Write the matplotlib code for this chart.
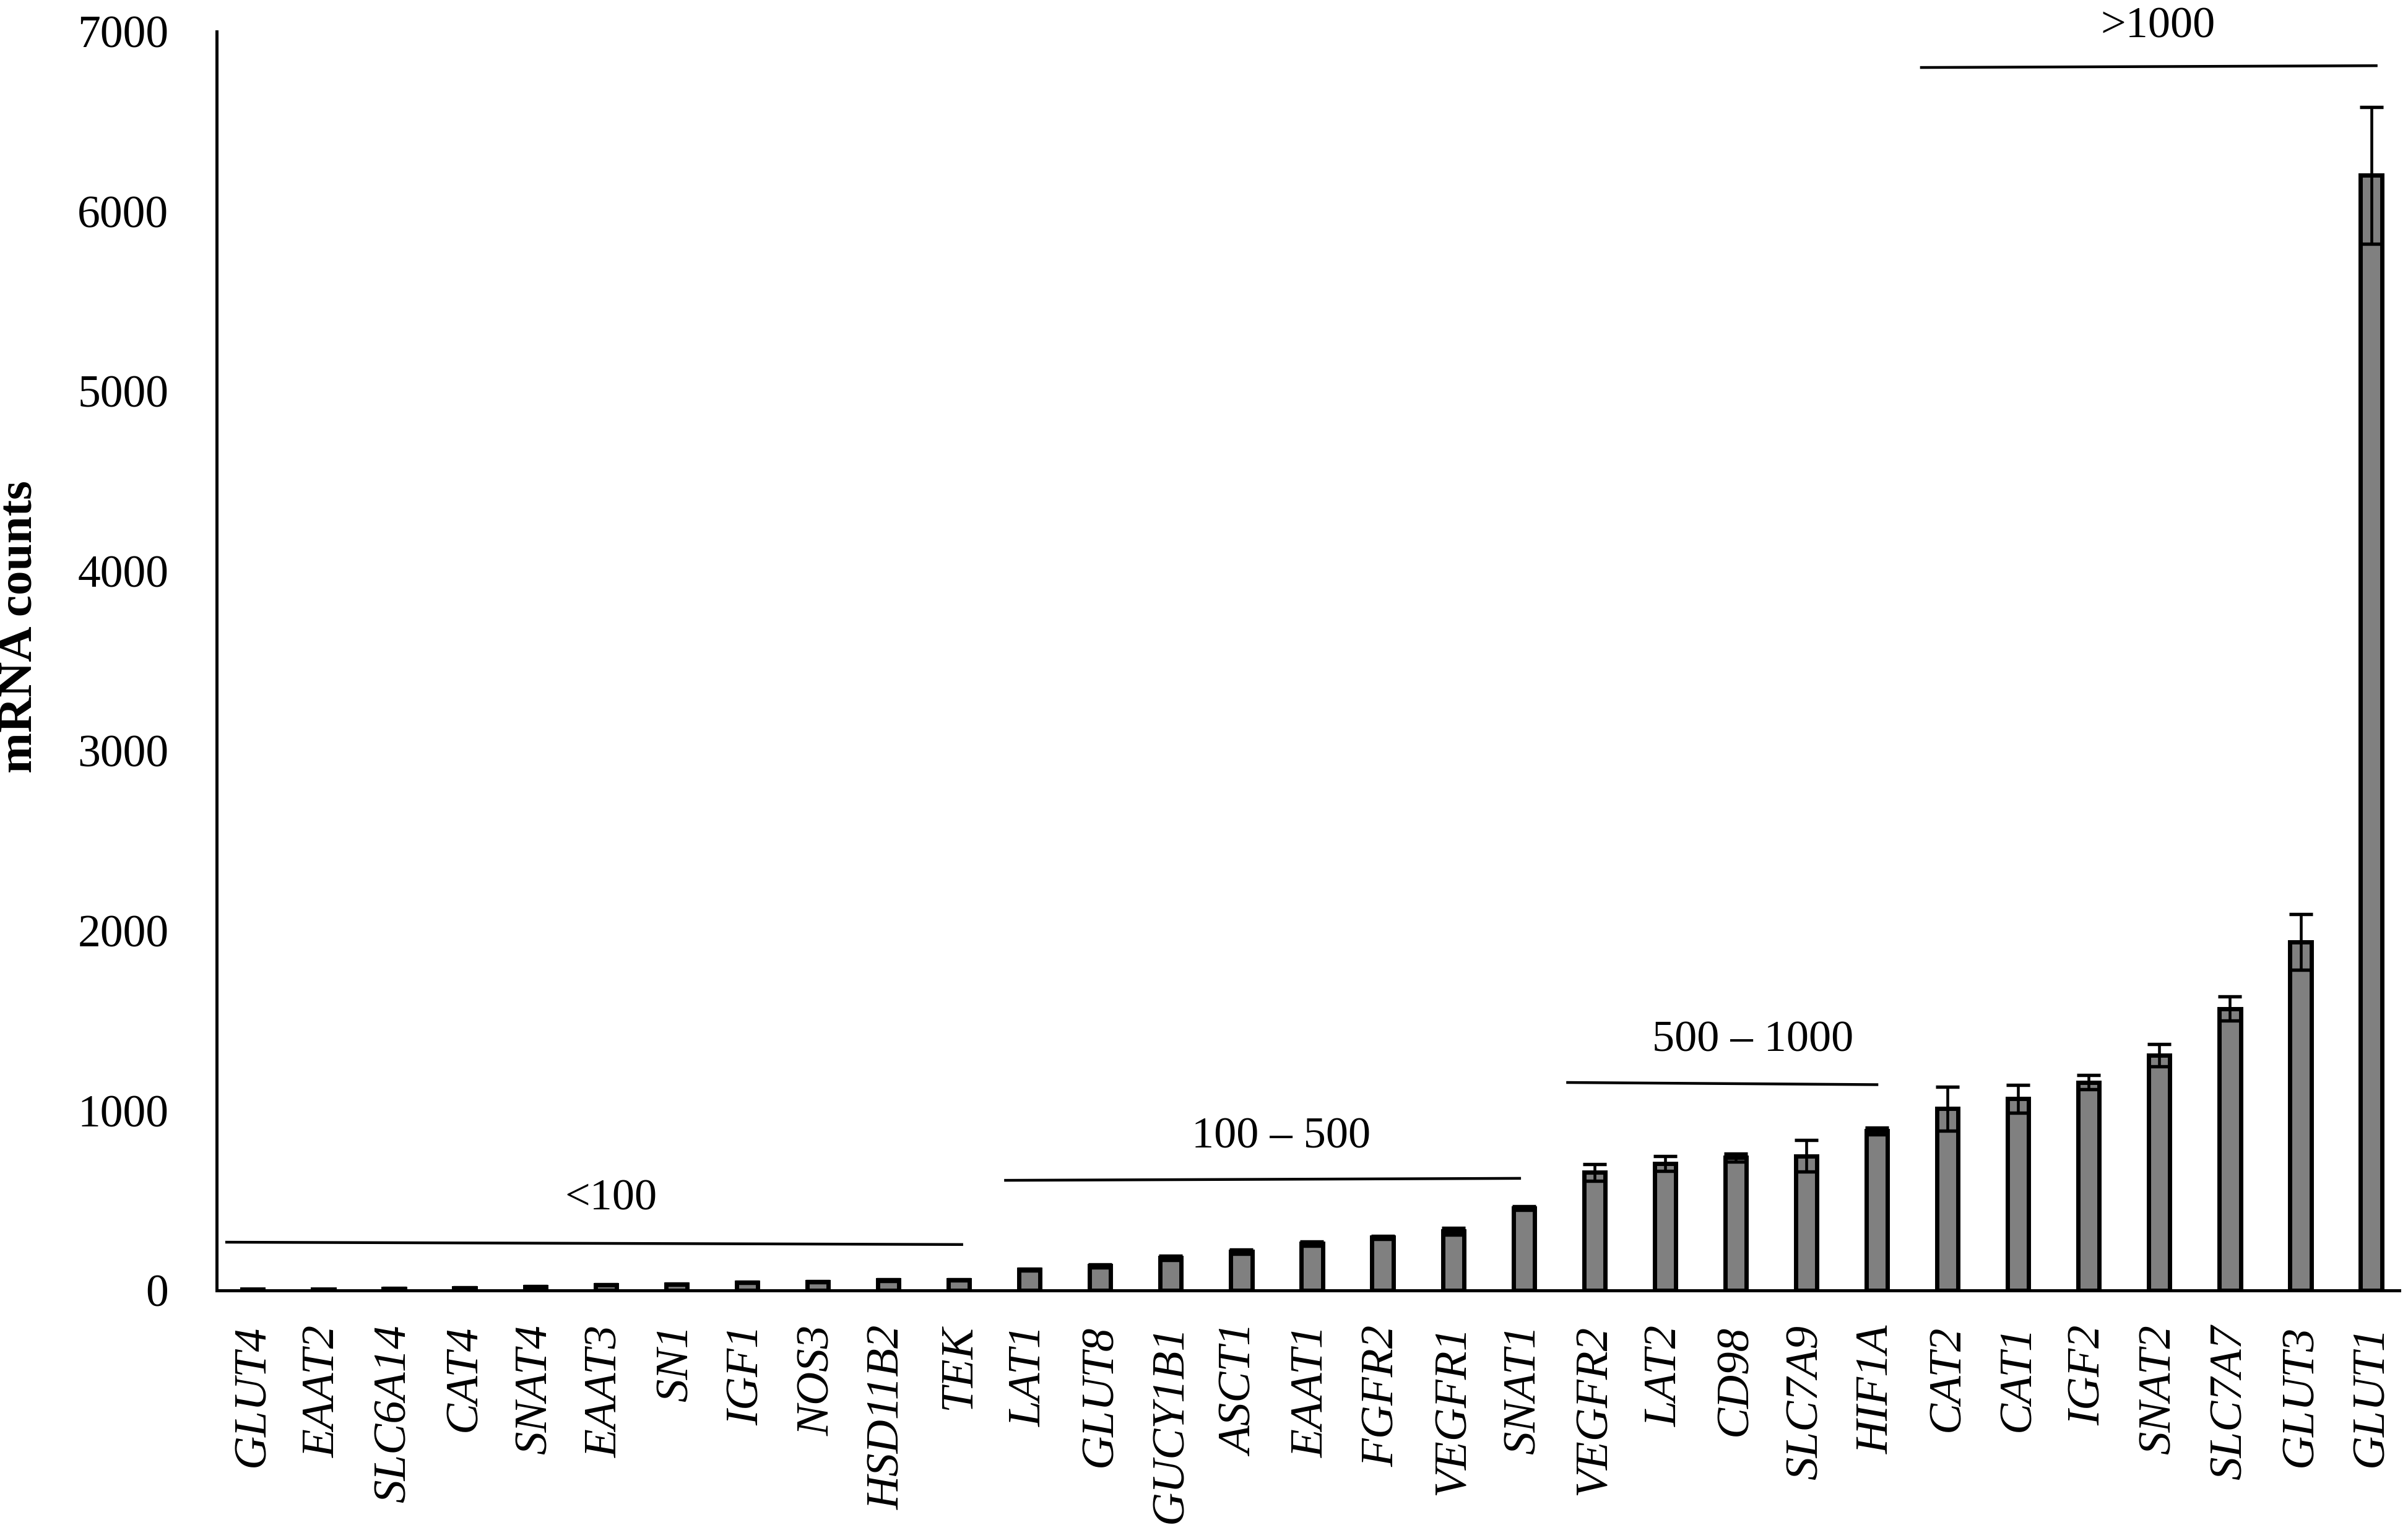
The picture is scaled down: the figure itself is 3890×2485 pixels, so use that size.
import numpy as np
import matplotlib
matplotlib.use('Agg')
import matplotlib.pyplot as plt

plt.rcParams['font.family'] = ['Liberation Serif', 'DejaVu Serif']

# genes ordered by expression
genes = ['GLUT4', 'EAAT2', 'SLC6A14', 'CAT4', 'SNAT4', 'EAAT3', 'SN1', 'IGF1',
         'NOS3', 'HSD11B2', 'TEK', 'LAT1', 'GLUT8', 'GUCY1B1', 'ASCT1', 'EAAT1',
         'FGFR2', 'VEGFR1', 'SNAT1', 'VEGFR2', 'LAT2', 'CD98', 'SLC7A9', 'HIF1A',
         'CAT2', 'CAT1', 'IGF2', 'SNAT2', 'SLC7A7', 'GLUT3', 'GLUT1']

# mean mRNA counts
counts = [6, 6, 10, 14, 21, 32, 33, 44, 48, 57, 58, 115, 136, 182, 215, 260,
          295, 329, 458, 656, 705, 739, 748, 886, 1010, 1066, 1157, 1307,
          1567, 1938, 6200]

# standard error
sem = [2, 2, 2, 2, 3, 3, 3, 3, 3, 4, 4, 6, 9, 12, 12, 12, 9, 18, 11, 47,
       40, 22, 88, 20, 121, 78, 39, 61, 68, 154, 380]

# expression ranges drawn above the bars
group_labels = ['<100', '100 \u2013 500', '500 \u2013 1000', '>1000']

# line (x0, y0, x1, y1) and label centre for each range
group_lines = [(-0.37, 268, 10.04, 255), (10.66, 612, 17.94, 623),
               (18.62, 1156, 23.0, 1144), (23.63, 6800, 30.07, 6810)]
group_text = [(5.07, 509), (14.56, 853), (21.24, 1391), (26.98, 7027)]

fig = plt.figure(figsize=(38.91, 24.85), dpi=100)
ax = fig.add_axes([0.09, 0.161, 0.9062, 0.8185])

x = np.arange(len(genes))
ax.bar(x, counts, width=0.30, color='#808080', edgecolor='black',
       linewidth=5, zorder=2)
ax.errorbar(x, counts, yerr=sem, fmt='none', ecolor='black',
            elinewidth=3.3, capsize=14, capthick=3.9, zorder=3)

for (x0, y0, x1, y1), (tx, ty), lab in zip(group_lines, group_text, group_labels):
    ax.plot([x0, x1], [y0, y1], color='black', linewidth=3.2, clip_on=False)
    ax.text(tx, ty, lab, ha='center', va='center', fontsize=52)

ax.set_xlim(-0.51, 30.4)
ax.set_ylim(0, 7000)
ax.set_yticks(range(0, 7001, 1000))
ax.set_xticks(x)
ax.set_xticklabels(genes, rotation=90, style='italic', fontsize=54)
ax.tick_params(axis='x', length=0, pad=40)
ax.tick_params(axis='y', length=0, pad=56, labelsize=53)

ax.set_ylabel('mRNA counts', fontsize=57, fontweight='bold')
ax.yaxis.set_label_coords(-0.0803, 0.527)

for side in ['top', 'right']:
    ax.spines[side].set_visible(False)
for side in ['left', 'bottom']:
    ax.spines[side].set_linewidth(3.6)

fig.savefig('out.png', dpi=100)
